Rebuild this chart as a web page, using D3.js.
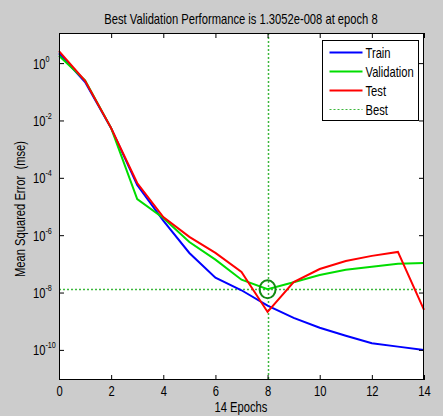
<!DOCTYPE html>
<html>
<head>
<meta charset="utf-8">
<script src="https://cdn.jsdelivr.net/npm/d3@7"></script>
<style>
    body { margin: 0; background: #cccccc; }
    svg { display: block; font-family: "Liberation Sans", Arial, sans-serif; }
</style>
</head>
<body>
<script>
//data
var epochs = [0, 1, 2, 3, 4, 5, 6, 7, 8, 9, 10, 11, 12, 13, 14];
var trainPerf = [2.2, 0.22, 5.4e-3, 5.6e-5, 3.2e-6, 2.4e-7, 3.3e-8, 1.2e-8, 3.5e-9, 1.3e-9, 5.9e-10, 3.1e-10, 1.7e-10, 1.3e-10, 1.0e-10];
var valPerf = [1.8, 0.25, 5.4e-3, 1.8e-5, 4.0e-6, 5.8e-7, 1.4e-7, 2.8e-8, 1.3052e-8, 2.3e-8, 4.1e-8, 6.2e-8, 7.9e-8, 1.0e-7, 1.07e-7];
var testPerf = [2.6, 0.24, 5.4e-3, 6.6e-5, 4.3e-6, 8.7e-7, 2.4e-7, 5.2e-8, 2.1e-9, 2.3e-8, 6.6e-8, 1.26e-7, 1.9e-7, 2.6e-7, 2.5e-9];
var bestEpoch = 8,
    bestPerf = 1.3052e-8;
var xTicks = [0, 2, 4, 6, 8, 10, 12, 14];
var yTickExp = [0, -2, -4, -6, -8, -10];
var legendNames = ["Train", "Validation", "Test", "Best"];

window.onload = drawChart();

function drawChart(){
    //frame and plot box
    var width = 443,
        height = 416,
        left = 59,
        right = 424,
        top = 33,
        bottom = 380,
        squeeze = 0.8; //narrow the glyphs like the original font

    var svg = d3.select("body")
        .append("svg")
        .attr("width", width)
        .attr("height", height);

    svg.append("rect")
        .attr("width", width)
        .attr("height", height)
        .attr("fill", "#cccccc");

    var x = d3.scaleLinear()
        .domain([0, 14])
        .range([left, right]);

    var y = d3.scaleLog()
        .domain([Math.pow(10, -11.05), Math.pow(10, 1.05)])
        .range([bottom, top]);

    //white axes background
    svg.append("rect")
        .attr("x", left)
        .attr("y", top)
        .attr("width", right - left)
        .attr("height", bottom - top)
        .attr("fill", "#ffffff");

    //best lines (dotted) and circle
    var bestColor = "#3cb83c";
    svg.append("line")
        .attr("x1", Math.round(x(bestEpoch)) + 0.5).attr("x2", Math.round(x(bestEpoch)) + 0.5)
        .attr("y1", top).attr("y2", bottom)
        .attr("stroke", bestColor)
        .attr("stroke-width", 1.5)
        .attr("stroke-dasharray", "2,2");
    svg.append("line")
        .attr("x1", left).attr("x2", right)
        .attr("y1", Math.round(y(bestPerf)) + 0.5).attr("y2", Math.round(y(bestPerf)) + 0.5)
        .attr("stroke", bestColor)
        .attr("stroke-width", 1.5)
        .attr("stroke-dasharray", "2,2");

    //performance lines
    var line = d3.line()
        .x(function(d, i){ return x(epochs[i]); })
        .y(function(d){ return y(d); });

    var series = [
        { values: trainPerf, color: "#0000ff" },
        { values: valPerf, color: "#00dd00" },
        { values: testPerf, color: "#ff0000" }
    ];

    svg.selectAll(".perf")
        .data(series)
        .enter()
        .append("path")
        .attr("class", "perf")
        .attr("d", function(d){ return line(d.values); })
        .attr("fill", "none")
        .attr("stroke", function(d){ return d.color; })
        .attr("stroke-width", 2);

    svg.append("ellipse")
        .attr("cx", x(bestEpoch))
        .attr("cy", y(bestPerf))
        .attr("rx", 8)
        .attr("ry", 9)
        .attr("fill", "none")
        .attr("stroke", "#138a13")
        .attr("stroke-width", 2);

    //axes with inward ticks, mirrored on top and right
    var xAxis = d3.axisBottom(x)
        .tickValues(xTicks)
        .tickSizeInner(-5)
        .tickSizeOuter(0);
    var gx = svg.append("g")
        .attr("transform", "translate(0," + bottom + ")")
        .call(xAxis);
    gx.selectAll("text")
        .attr("font-size", 14)
        .attr("fill", "#000")
        .attr("dy", null)
        .attr("y", 16)
        .attr("transform", "scale(" + squeeze + ",1)");

    svg.append("g")
        .attr("transform", "translate(0," + top + ")")
        .call(d3.axisTop(x).tickValues(xTicks).tickSizeInner(-5).tickSizeOuter(0).tickFormat(""));

    var yAxis = d3.axisLeft(y)
        .tickValues(yTickExp.map(function(e){ return Math.pow(10, e); }))
        .tickSizeInner(-5)
        .tickSizeOuter(0);
    var gy = svg.append("g")
        .attr("transform", "translate(" + left + ",0)")
        .call(yAxis);

    //rewrite y labels as 10 with superscript exponent
    gy.selectAll("text").each(function(d, i){
        var t = d3.select(this)
            .text(null)
            .attr("text-anchor", "start")
            .attr("x", -26 / squeeze)
            .attr("dy", null)
            .attr("y", 5)
            .attr("fill", "#000")
            .attr("transform", "scale(" + squeeze + ",1)");
        t.append("tspan")
            .attr("font-size", 14)
            .text("10");
        t.append("tspan")
            .attr("font-size", 9)
            .attr("dy", -7)
            .text(yTickExp[i]);
    });

    svg.append("g")
        .attr("transform", "translate(" + right + ",0)")
        .call(d3.axisRight(y).tickValues(yTickExp.map(function(e){ return Math.pow(10, e); })).tickSizeInner(-5).tickSizeOuter(0).tickFormat(""));

    svg.selectAll(".domain").remove();
    svg.selectAll(".tick line").attr("stroke", "#000");

    //plot box border
    svg.append("rect")
        .attr("x", left + 0.5)
        .attr("y", top + 0.5)
        .attr("width", right - left - 1)
        .attr("height", bottom - top - 1)
        .attr("fill", "none")
        .attr("stroke", "#000");

    //title and axis labels
    svg.append("text")
        .attr("transform", "translate(241,24) scale(" + squeeze + ",1)")
        .attr("text-anchor", "middle")
        .attr("font-size", 14)
        .text("Best Validation Performance is 1.3052e-008 at epoch 8");

    svg.append("text")
        .attr("transform", "translate(241,412) scale(" + squeeze + ",1)")
        .attr("text-anchor", "middle")
        .attr("font-size", 14)
        .text("14 Epochs");

    svg.append("text")
        .attr("transform", "translate(25,209) rotate(-90) scale(" + squeeze + ",1)")
        .attr("text-anchor", "middle")
        .attr("font-size", 14)
        .attr("xml:space", "preserve")
        .text("Mean Squared Error  (mse)");

    //legend
    var legend = svg.append("g")
        .attr("transform", "translate(322.5,40.5)");
    legend.append("rect")
        .attr("width", 96)
        .attr("height", 80)
        .attr("fill", "#ffffff")
        .attr("stroke", "#000");

    var legendColors = ["#0000ff", "#00dd00", "#ff0000", bestColor];
    var items = legend.selectAll(".item")
        .data(legendNames)
        .enter()
        .append("g")
        .attr("class", "item")
        .attr("transform", function(d, i){ return "translate(0," + (12 + i * 19) + ")"; });
    items.append("line")
        .attr("x1", 7).attr("x2", 40)
        .attr("stroke", function(d, i){ return legendColors[i]; })
        .attr("stroke-width", function(d, i){ return i == 3 ? 1 : 2; })
        .attr("stroke-dasharray", function(d, i){ return i == 3 ? "2,2" : null; });
    items.append("text")
        .attr("transform", "translate(43,5) scale(" + squeeze + ",1)")
        .attr("font-size", 14)
        .text(function(d){ return d; });
}
</script>
</body>
</html>
